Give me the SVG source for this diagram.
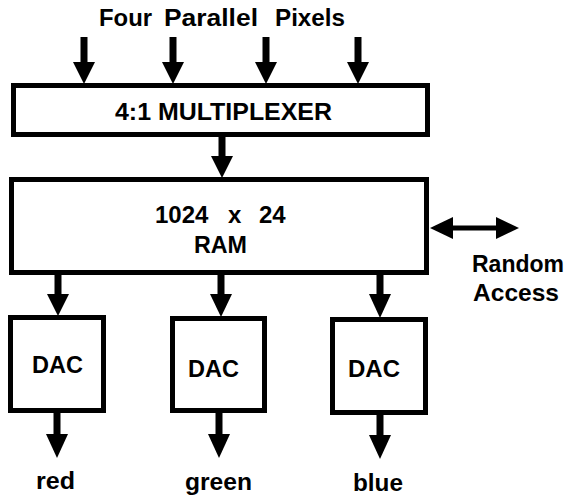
<svg xmlns="http://www.w3.org/2000/svg" width="567" height="498" viewBox="0 0 567 498">
<style>
.box{fill:#fff;stroke:#000;stroke-width:5}
.t{font-family:"Liberation Sans",Arial,Helvetica,sans-serif;font-weight:bold;fill:#000;font-size:24px}
.sh{stroke:#000;stroke-width:7}
.hd{fill:#000}
</style>
<rect width="567" height="498" fill="#fff"/>
<g id="title">
<text class="t" x="99" y="26" textLength="53" lengthAdjust="spacingAndGlyphs">Four</text>
<text class="t" x="164" y="26" textLength="94" lengthAdjust="spacingAndGlyphs">Parallel</text>
<text class="t" x="275" y="26" textLength="70" lengthAdjust="spacingAndGlyphs">Pixels</text>
</g>
<g id="connectors">
<line class="sh" x1="84" y1="37" x2="84" y2="64"/><polygon class="hd" points="73,62 95,62 84,84"/>
<line class="sh" x1="173" y1="37" x2="173" y2="64"/><polygon class="hd" points="162,62 184,62 173,84"/>
<line class="sh" x1="266" y1="37" x2="266" y2="64"/><polygon class="hd" points="255,62 277,62 266,84"/>
<line class="sh" x1="358" y1="37" x2="358" y2="64"/><polygon class="hd" points="347,62 369,62 358,84"/>
<line class="sh" x1="222" y1="136" x2="222" y2="158"/><polygon class="hd" points="211,156 233,156 222,178"/>
<line class="sh" x1="58" y1="274" x2="58" y2="296"/><polygon class="hd" points="47,294 69,294 58,316"/>
<line class="sh" x1="221" y1="274" x2="221" y2="296"/><polygon class="hd" points="210,294 232,294 221,317"/>
<line class="sh" x1="380" y1="274" x2="380" y2="296"/><polygon class="hd" points="369,294 391,294 380,318"/>
<line class="sh" x1="57" y1="412" x2="57" y2="436"/><polygon class="hd" points="46,434 68,434 57,458"/>
<line class="sh" x1="219" y1="412" x2="219" y2="436"/><polygon class="hd" points="208,434 230,434 219,458"/>
<line class="sh" x1="380" y1="414" x2="380" y2="437"/><polygon class="hd" points="369,435 391,435 380,459"/>
<line class="sh" style="stroke-width:5" x1="450" y1="228" x2="498" y2="228"/>
<polygon class="hd" points="430,228 453,217 453,239"/>
<polygon class="hd" points="519,228 496,217 496,239"/>
</g>
<g id="mux">
<rect class="box" x="13.5" y="85.5" width="414" height="49"/>
<text class="t" x="115" y="120" textLength="217" lengthAdjust="spacingAndGlyphs">4:1 MULTIPLEXER</text>
</g>
<g id="ram">
<rect class="box" x="11.5" y="179.5" width="415" height="93"/>
<text class="t" x="155" y="223"><tspan>1024</tspan><tspan x="228">x</tspan><tspan x="259">24</tspan></text>
<text class="t" x="194" y="253" textLength="53" lengthAdjust="spacingAndGlyphs">RAM</text>
</g>
<g id="random-access">
<text class="t" x="472" y="272" textLength="92" lengthAdjust="spacingAndGlyphs">Random</text>
<text class="t" x="473" y="301" textLength="86" lengthAdjust="spacingAndGlyphs">Access</text>
</g>
<g id="dac-red">
<rect class="box" x="10.5" y="317.5" width="93" height="93"/>
<text class="t" x="32" y="373" textLength="51" lengthAdjust="spacingAndGlyphs">DAC</text>
</g>
<g id="dac-green">
<rect class="box" x="172.5" y="318.5" width="92" height="92"/>
<text class="t" x="188" y="377" textLength="51" lengthAdjust="spacingAndGlyphs">DAC</text>
</g>
<g id="dac-blue">
<rect class="box" x="332.5" y="319.5" width="93" height="93"/>
<text class="t" x="348" y="377" textLength="52" lengthAdjust="spacingAndGlyphs">DAC</text>
</g>
<g id="outputs">
<text class="t" x="36" y="489" textLength="39" lengthAdjust="spacingAndGlyphs">red</text>
<text class="t" x="185" y="490" textLength="67" lengthAdjust="spacingAndGlyphs">green</text>
<text class="t" x="353" y="491" textLength="50" lengthAdjust="spacingAndGlyphs">blue</text>
</g>
</svg>
